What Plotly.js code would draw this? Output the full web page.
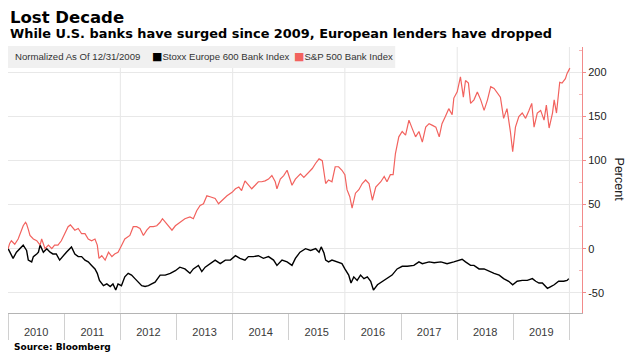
<!DOCTYPE html>
<html>
<head>
<meta charset="utf-8">
<script src="https://cdn.plot.ly/plotly-3.0.1.min.js"></script>
<style>html,body{margin:0;padding:0;background:#fff;}#chart{width:644px;height:360px;}</style>
</head>
<body>
<div id="chart"></div>
<script>
// ---- Data (decimal years, percent change since 12/31/2009) ----
const spYears = [2010.00,2010.03,2010.06,2010.12,2010.18,2010.23,2010.27,2010.31,2010.33,2010.36,2010.39,2010.45,2010.51,2010.57,2010.60,2010.66,2010.72,2010.78,2010.83,2010.89,2010.95,
2011.01,2011.07,2011.11,2011.19,2011.25,2011.31,2011.37,2011.43,2011.49,2011.55,2011.59,2011.62,2011.67,2011.73,2011.79,2011.85,2011.90,2011.96,
2012.01,2012.08,2012.17,2012.23,2012.29,2012.35,2012.41,2012.47,2012.53,2012.59,2012.65,2012.71,2012.75,2012.80,2012.86,2012.92,2012.98,
2013.06,2013.15,2013.24,2013.30,2013.36,2013.42,2013.48,2013.54,2013.60,2013.69,2013.75,2013.81,2013.90,2013.99,
2014.05,2014.11,2014.16,2014.22,2014.28,2014.34,2014.40,2014.46,2014.52,2014.58,2014.64,2014.70,2014.76,2014.79,2014.85,2014.91,2014.97,
2015.00,2015.06,2015.12,2015.17,2015.21,2015.27,2015.33,2015.42,2015.48,2015.54,2015.60,2015.63,2015.66,2015.71,2015.77,2015.83,2015.89,2015.95,
2016.00,2016.04,2016.09,2016.13,2016.19,2016.25,2016.31,2016.37,2016.43,2016.49,2016.55,2016.64,2016.70,2016.75,2016.81,2016.86,2016.90,2016.96,
2017.02,2017.08,2017.14,2017.20,2017.26,2017.32,2017.38,2017.44,2017.50,2017.56,2017.62,2017.68,2017.73,2017.79,2017.85,2017.91,2017.94,
2018.00,2018.06,2018.11,2018.15,2018.20,2018.24,2018.30,2018.36,2018.42,2018.48,2018.54,2018.60,2018.66,2018.72,2018.77,2018.83,2018.89,2018.95,2018.99,
2019.04,2019.10,2019.16,2019.22,2019.28,2019.33,2019.37,2019.43,2019.49,2019.55,2019.59,2019.64,2019.70,2019.73,2019.77,2019.83,2019.87,2019.93,2019.96,2020.01];
const spValues = [0,6,9,5,11,20,26,30,28,22,15,11,9,4,11,0,4,0,4,4,9,
17,25,27,21,23,17,17,11,9,11,4,-11,-8,-13,-4,-9,-6,-4,
2,11,15,25,25,23,15,21,25,25,26,30,34,30,26,21,26,
30,34,36,34,43,49,51,60,59,57,51,55,60,64,
68,70,66,77,72,68,72,76,76,77,79,83,76,68,79,83,89,
83,72,79,83,85,81,85,91,97,102,100,89,74,78,76,93,93,89,
84,67,59,46,63,67,74,78,74,55,70,76,82,76,84,84,108,127,
133,129,146,136,127,133,121,138,142,140,138,127,142,150,159,152,171,
178,195,172,191,188,165,169,178,169,157,169,184,182,176,172,148,159,133,110,
138,150,154,148,157,165,138,154,157,146,163,137,154,169,154,189,188,193,199,205];

const stoxxYears = [2010.00,2010.06,2010.09,2010.15,2010.21,2010.27,2010.33,2010.36,2010.42,2010.45,2010.51,2010.54,2010.57,2010.63,2010.69,2010.75,2010.80,2010.86,2010.92,2010.98,
2011.04,2011.13,2011.19,2011.25,2011.31,2011.37,2011.43,2011.49,2011.55,2011.59,2011.63,2011.70,2011.76,2011.82,2011.87,2011.92,2011.96,
2012.02,2012.08,2012.14,2012.20,2012.26,2012.32,2012.38,2012.44,2012.50,2012.56,2012.62,2012.71,2012.80,2012.89,2012.98,
2013.06,2013.15,2013.24,2013.30,2013.39,2013.45,2013.51,2013.60,2013.69,2013.78,2013.87,2013.96,
2014.05,2014.13,2014.22,2014.28,2014.37,2014.46,2014.55,2014.64,2014.73,2014.79,2014.88,2014.97,
2015.06,2015.12,2015.20,2015.30,2015.39,2015.48,2015.54,2015.58,2015.63,2015.66,2015.71,2015.77,2015.86,2015.95,
2016.00,2016.07,2016.11,2016.16,2016.22,2016.28,2016.34,2016.40,2016.46,2016.51,2016.58,2016.67,2016.75,2016.84,2016.93,
2017.02,2017.11,2017.23,2017.32,2017.38,2017.50,2017.59,2017.71,2017.82,2017.94,
2018.03,2018.09,2018.15,2018.24,2018.30,2018.39,2018.48,2018.57,2018.66,2018.75,2018.83,2018.92,2018.99,
2019.07,2019.16,2019.25,2019.34,2019.40,2019.46,2019.52,2019.61,2019.67,2019.73,2019.81,2019.90,2019.96,2019.99];
const stoxxValues = [0,-8,-11,-4,0,4,-2,-13,-15,-9,-6,-4,4,-4,0,-4,-6,-6,-13,-8,
-4,2,-6,-9,-9,-13,-15,-19,-23,-28,-36,-42,-40,-43,-40,-47,-40,
-42,-32,-28,-30,-34,-38,-42,-43,-42,-40,-38,-30,-30,-28,-25,
-21,-23,-28,-23,-19,-26,-21,-17,-13,-17,-13,-13,
-8,-11,-13,-9,-9,-8,-11,-9,-13,-19,-13,-15,
-19,-11,-4,0,-2,0,-4,2,-5,-13,-15,-13,-15,-17,
-23,-30,-39,-32,-36,-30,-34,-32,-37,-47,-41,-37,-34,-30,-23,
-20,-20,-19,-15,-17,-15,-16,-15,-17,-15,
-13,-12,-15,-19,-19,-23,-23,-26,-28,-30,-34,-37,-41,
-37,-36,-36,-34,-37,-39,-39,-45,-43,-41,-37,-37,-36,-34];

const yearLabels = ['2010','2011','2012','2013','2014','2015','2016','2017','2018','2019'];
const gridYears = [2012, 2014, 2016, 2018, 2020];
const yTicks = [-50, 0, 50, 100, 150, 200];

// ---- helpers ----
function toDate(d){
  const y = Math.floor(d);
  const s = Date.UTC(y,0,1), e = Date.UTC(y+1,0,1);
  return new Date(s + (d - y)*(e - s)).toISOString().slice(0,10);
}
const RED = '#f2625e';
const AXRED = '#f28a8a';
const xRange = ['2009-12-31','2020-03-23'];
const tickFont = {family:'Liberation Sans, Arial, sans-serif', size:11, color:'#3a3a3a'};
const legFont = {family:'Liberation Sans, Arial, sans-serif', size:9.6, color:'#333'};

const traces = [
  {type:'scatter', mode:'lines', name:'Stoxx Europe 600 Bank Index',
   x: stoxxYears.map(toDate), y: stoxxValues, line:{color:'#000', width:1.4}, hoverinfo:'skip'},
  {type:'scatter', mode:'lines', name:'S&P 500 Bank Index',
   x: spYears.map(toDate), y: spValues, line:{color:RED, width:1.2}, hoverinfo:'skip'},
  // carrier for the year-label axis (no visible marks)
  {type:'scatter', mode:'lines', x:[xRange[0]], y:[null], xaxis:'x2', yaxis:'y', showlegend:false, hoverinfo:'skip'}
];

const shapes = gridYears.map(g => ({type:'line', xref:'x', yref:'y domain', x0:toDate(g), x1:toDate(g), y0:0, y1:1,
  line:{color:'#e6e6e6', width:1}, layer:'below'}));
shapes.push({type:'rect', xref:'paper', yref:'paper', x0:0, x1:0.6746, y0:0.9242, y1:1.0036,
  fillcolor:'#f0f0f0', line:{width:0}, layer:'above'});

const sq = c => '<span style="color:' + c + ';font-family:DejaVu Sans;font-size:11px">■</span>';
const annotations = [
  {xref:'paper', yref:'paper', x:0, y:1.1076, xanchor:'left', yanchor:'middle', showarrow:false,
   text:'<b>Lost Decade</b>', font:{family:'DejaVu Sans, sans-serif', size:16.5, color:'#000'}},
  {xref:'paper', yref:'paper', x:0, y:1.0505, xanchor:'left', yanchor:'middle', showarrow:false,
   text:'<b>While U.S. banks have surged since 2009, European lenders have dropped</b>', font:{family:'DejaVu Sans, sans-serif', size:12.9, color:'#000'}},
  {xref:'paper', yref:'paper', x:0.0082, y:0.965, xanchor:'left', yanchor:'middle', showarrow:false,
   text:'Normalized As Of 12/31/2009', font:legFont},
  {xref:'paper', yref:'paper', x:0.2470, y:0.965, xanchor:'left', yanchor:'middle', showarrow:false,
   text: sq('#000') + traces[0].name, font:legFont},
  {xref:'paper', yref:'paper', x:0.4956, y:0.965, xanchor:'left', yanchor:'middle', showarrow:false,
   text: sq(RED) + traces[1].name.replace('&','&amp;'), font:legFont},
  {xref:'paper', yref:'paper', x:0.0064, y:-0.082, xanchor:'left', yanchor:'middle', showarrow:false,
   text:'<b>Source: Bloomberg</b>', font:{family:'DejaVu Sans, sans-serif', size:9, color:'#000'}},
  {xref:'paper', yref:'y domain', x:1.065, y:0.5, xanchor:'center', yanchor:'middle', showarrow:false,
   textangle:90, text:'Percent', font:{family:'Liberation Sans, Arial, sans-serif', size:12.5, color:'#222'}}
];

const layout = {
  width:644, height:360,
  margin:{l:8, r:62, t:47, b:36, pad:0},
  paper_bgcolor:'#fff', plot_bgcolor:'#fff',
  showlegend:false,
  xaxis:{type:'date', range:xRange, anchor:'y', showgrid:false, zeroline:false,
    showline:true, linecolor:'#b4b4b4', linewidth:1.2,
    ticks:'outside', ticklen:26, tickcolor:'#d0d0d0', tickwidth:1,
    dtick:'M12', tick0:'2010-01-01', showticklabels:false, fixedrange:true},
  xaxis2:{type:'date', range:xRange, overlaying:'x', anchor:'free', position:0, side:'bottom',
    showgrid:false, zeroline:false, showline:false, ticks:'',
    tickmode:'array', tickvals: yearLabels.map(y => y + '-07-02'), ticktext: yearLabels,
    tickfont:tickFont, fixedrange:true},
  yaxis:{side:'right', anchor:'x', domain:[0.0408,1], range:[-72.7,229],
    tickmode:'array', tickvals:yTicks, ticktext:yTicks.map(String),
    showgrid:true, gridcolor:'#e8e8e8', gridwidth:1, zeroline:false,
    showline:true, linecolor:AXRED, linewidth:1,
    ticks:'outside', ticklen:3, tickcolor:AXRED, tickwidth:1,
    tickfont:{family:'Liberation Sans, Arial, sans-serif', size:11, color:'#222'},
    minor:{tickmode:'array', tickvals:[-25,25,75,125,175,225], ticks:'inside', ticklen:3, tickcolor:'#f5b5b5', showgrid:false},
    fixedrange:true},
  shapes: shapes,
  annotations: annotations
};

Plotly.newPlot('chart', traces, layout, {staticPlot:true, displayModeBar:false});
</script>
</body>
</html>
